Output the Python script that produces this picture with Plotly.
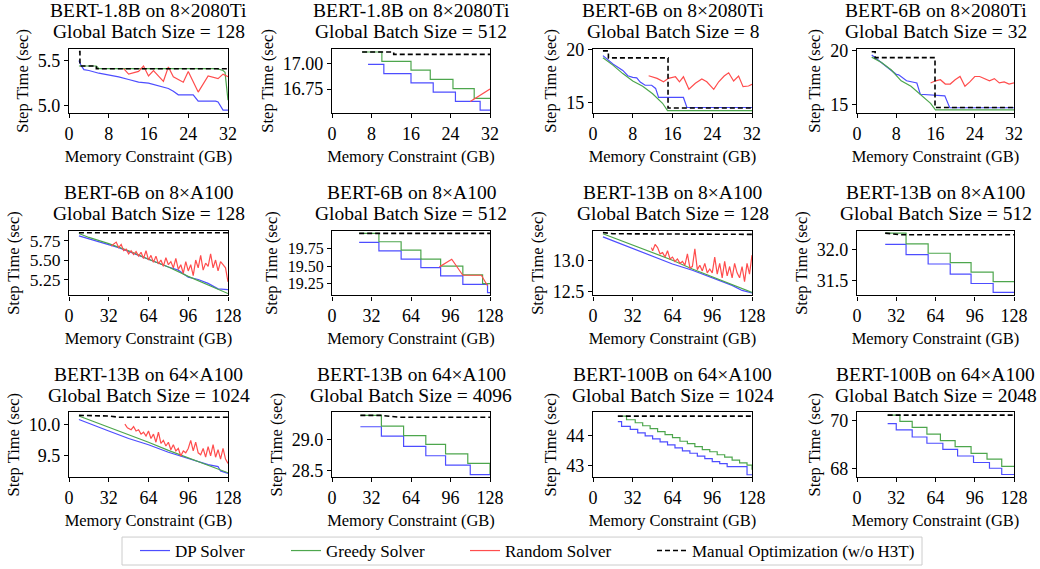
import plotly.graph_objects as go

# ---------------- data ----------------
TITLES_1 = ["BERT-1.8B on 8×2080Ti", "BERT-1.8B on 8×2080Ti", "BERT-6B on 8×2080Ti", "BERT-6B on 8×2080Ti",
            "BERT-6B on 8×A100", "BERT-6B on 8×A100", "BERT-13B on 8×A100", "BERT-13B on 8×A100",
            "BERT-13B on 64×A100", "BERT-13B on 64×A100", "BERT-100B on 64×A100", "BERT-100B on 64×A100"]
TITLES_2 = ["Global Batch Size = 128", "Global Batch Size = 512", "Global Batch Size = 8", "Global Batch Size = 32",
            "Global Batch Size = 128", "Global Batch Size = 512", "Global Batch Size = 128", "Global Batch Size = 512",
            "Global Batch Size = 1024", "Global Batch Size = 4096", "Global Batch Size = 1024", "Global Batch Size = 2048"]

X_TICKS_SMALL = [0, 8, 16, 24, 32]
X_TICKS_LARGE = [0, 32, 64, 96, 128]

Y_TICKVALS = [[5.0, 5.5], [16.75, 17.00], [15, 20], [15, 20],
              [5.25, 5.50, 5.75], [19.25, 19.50, 19.75], [12.5, 13.0], [31.5, 32.0],
              [9.5, 10.0], [28.5, 29.0], [43, 44], [68, 70]]
Y_TICKTEXT = [["5.0", "5.5"], ["16.75", "17.00"], ["15", "20"], ["15", "20"],
              ["5.25", "5.50", "5.75"], ["19.25", "19.50", "19.75"], ["12.5", "13.0"], ["31.5", "32.0"],
              ["9.5", "10.0"], ["28.5", "29.0"], ["43", "44"], ["68", "70"]]
Y_RANGES = [[4.92, 5.63], [16.52, 17.14], [14.0, 20.03], [14.23, 20.16],
            [5.045, 5.878], [19.08, 20.01], [12.44, 13.47], [31.27, 32.30],
            [9.16, 10.20], [28.40, 29.43], [42.6, 44.77], [67.63, 70.33]]

# Panel 1
P1_DP_X = [2, 2.4, 3, 4, 6, 8, 10, 12, 14, 16, 18, 19, 20, 21, 22, 25, 26, 29.5, 30, 31, 32]
P1_DP_Y = [5.50, 5.45, 5.40, 5.39, 5.36, 5.34, 5.32, 5.29, 5.26, 5.25, 5.22, 5.20, 5.19, 5.16, 5.12, 5.12, 5.05, 5.05, 5.04, 4.95, 4.95]
P1_GR_X = [2, 5.5, 6, 29.8, 31, 31.4, 32]
P1_GR_Y = [5.44, 5.44, 5.41, 5.41, 5.39, 5.37, 5.06]
P1_RA_X = [11, 12, 14, 15, 16, 17, 19, 20, 21, 23, 24, 26, 28, 30, 31, 32]
P1_RA_Y = [5.41, 5.35, 5.38, 5.44, 5.33, 5.39, 5.27, 5.43, 5.32, 5.26, 5.38, 5.15, 5.33, 5.30, 5.35, 5.32]
P1_MA_X = [2, 2.2, 5.5, 32]
P1_MA_Y = [5.60, 5.44, 5.41, 5.41]

# Panel 2
P2_DP_X = [7.3, 10.5, 16, 20.5, 25, 30, 32]
P2_DP_Y = [16.99, 16.90, 16.81, 16.72, 16.63, 16.545, 16.545]
P2_GR_X = [6.1, 10.1, 16, 19.9, 24.5, 28.8, 32]
P2_GR_Y = [17.11, 17.02, 16.935, 16.845, 16.755, 16.66, 16.66]
P2_RA_X = [28, 32]
P2_RA_Y = [16.63, 16.75]
P2_MA_X = [6.1, 12.5, 32]
P2_MA_Y = [17.11, 17.087, 17.087]

# Panel 3
P3_DP_X = [2, 4, 6, 7, 8, 8.8, 9.5, 10.5, 11.8, 12.6, 13.2, 18.2, 18.9, 32]
P3_DP_Y = [19.4, 18.6, 18.0, 17.5, 17.35, 17.3, 16.9, 16.6, 16.6, 16.3, 15.45, 15.45, 14.5, 14.5]
P3_GR_X = [2, 4, 6, 8, 10, 12, 14, 15, 32]
P3_GR_Y = [19.2, 18.5, 17.7, 17.0, 16.5, 15.8, 14.9, 14.2, 14.2]
P3_RA_X = [11.2, 12.9, 14.2, 15.2, 16.6, 17.4, 18.2, 19.3, 20.6, 21.9, 22.9, 24.3, 25.3, 26.4, 27.3, 28.3, 29.3, 30.2, 31.3, 32]
P3_RA_Y = [17.5, 17.25, 16.93, 17.25, 17.4, 16.93, 17.4, 16.22, 16.78, 17.19, 16.93, 16.22, 16.93, 17.47, 17.78, 17.0, 17.47, 16.47, 16.53, 16.69]
P3_MA_X = [2, 3.1, 15.1, 32]
P3_MA_Y = [19.84, 19.18, 14.45, 14.45]

# Panel 4
P4_DP_X = [3, 5, 7, 8, 8.5, 10.1, 12.2, 12.9, 17.9, 18.9, 32]
P4_DP_Y = [19.6, 18.9, 18.2, 17.8, 17.75, 17.2, 17.0, 15.95, 15.8, 14.7, 14.7]
P4_GR_X = [3, 5, 7, 9, 11, 13, 15, 16, 32]
P4_GR_Y = [19.4, 18.9, 18.2, 17.2, 16.7, 15.9, 15.1, 14.5, 14.5]
P4_RA_X = [15, 16, 17, 18, 19, 20, 21, 22, 23, 24, 25, 26, 27, 28, 29, 30, 31, 32]
P4_RA_Y = [17.0, 17.2, 17.3, 16.9, 16.9, 17.3, 17.6, 16.7, 17.1, 17.6, 17.6, 17.4, 17.2, 17.4, 17.0, 17.1, 16.9, 17.0]
P4_MA_X = [3, 3.7, 15.9, 32]
P4_MA_Y = [19.9, 19.35, 14.72, 14.72]

# Panel 5
P5_DP_X = [8, 16, 24, 32, 40, 48, 56, 64, 72, 80, 88, 96, 104, 112, 120, 128]
P5_DP_Y = [5.81, 5.77, 5.73, 5.70, 5.66, 5.61, 5.56, 5.50, 5.45, 5.41, 5.37, 5.28, 5.25, 5.20, 5.13, 5.12]
P5_GR_X = [8, 16, 32, 48, 64, 80, 96, 112, 128]
P5_GR_Y = [5.84, 5.79, 5.71, 5.62, 5.51, 5.41, 5.29, 5.18, 5.07]
P5_RA_X = [34, 36, 38, 40, 42, 44, 46, 48, 50, 52, 54, 56, 58, 60, 62, 64, 66, 68, 70, 72, 74, 76, 78, 80,
           82, 84, 86, 88, 90, 92, 94, 96, 98, 100, 102, 104, 106, 108, 110, 112, 114, 116, 118, 120, 122, 124, 126, 128]
P5_RA_Y = [5.68, 5.70, 5.73, 5.66, 5.70, 5.62, 5.64, 5.58, 5.62, 5.57,
           5.61, 5.55, 5.60, 5.52, 5.62, 5.50, 5.56, 5.47, 5.55, 5.45,
           5.50, 5.42, 5.53, 5.44, 5.48, 5.40, 5.52, 5.38, 5.44, 5.33,
           5.48, 5.36, 5.44, 5.30, 5.50, 5.40, 5.56, 5.37, 5.46, 5.42,
           5.58, 5.40, 5.50, 5.36, 5.48, 5.44, 5.40, 5.22]
P5_MA_X = [8, 128]
P5_MA_Y = [5.85, 5.85]

# Panel 6
P6_DP_X = [22, 38, 56, 72, 88, 106, 126, 128]
P6_DP_Y = [19.84, 19.72, 19.60, 19.48, 19.36, 19.24, 19.12, 19.12]
P6_GR_X = [22, 38, 56, 72, 88, 106, 122, 128]
P6_GR_Y = [19.97, 19.85, 19.73, 19.60, 19.50, 19.375, 19.25, 19.25]
P6_RA_X = [87, 97, 106, 121, 126]
P6_RA_Y = [19.49, 19.60, 19.37, 19.37, 19.22]
P6_MA_X = [22, 128]
P6_MA_Y = [19.97, 19.97]

# Panel 7
P7_DP_X = [8, 16, 32, 48, 64, 80, 96, 112, 120, 128]
P7_DP_Y = [13.37, 13.31, 13.18, 13.06, 12.94, 12.84, 12.72, 12.60, 12.52, 12.48]
P7_GR_X = [8, 16, 32, 48, 64, 80, 96, 112, 128]
P7_GR_Y = [13.42, 13.36, 13.24, 13.12, 13.00, 12.86, 12.74, 12.61, 12.49]
P7_RA_X = [47, 48, 50, 52, 54, 56, 58, 60, 62, 64, 66, 68, 70, 72, 74, 76, 78, 80, 82, 84, 86,
           88, 90, 92, 94, 96, 98, 100, 102, 104, 106, 108, 110, 112, 114, 116, 118, 120, 122, 124, 126, 128]
P7_RA_Y = [13.20, 13.15, 13.25, 13.20, 13.10, 13.12, 13.05, 13.15, 13.02, 13.05,
           12.98, 13.02, 12.95, 12.98, 12.92, 13.10, 12.88, 12.90, 13.18, 12.85,
           12.92, 12.83, 12.95, 12.80, 12.86, 12.80, 13.05, 12.78, 12.95, 12.72,
           12.98, 12.75, 12.90, 12.72, 12.95, 12.80, 12.72, 12.90, 12.66, 12.95,
           12.78, 13.08]
P7_MA_X = [8, 16, 128]
P7_MA_Y = [13.44, 13.42, 13.41]

# Panel 8
P8_DP_X = [23, 40, 58, 76, 93, 111, 128]
P8_DP_Y = [32.08, 31.92, 31.77, 31.61, 31.46, 31.32, 31.32]
P8_GR_X = [23, 40, 58, 76, 93, 111, 128]
P8_GR_Y = [32.26, 32.09, 31.94, 31.79, 31.64, 31.49, 31.49]
P8_MA_X = [23, 35, 128]
P8_MA_Y = [32.26, 32.235, 32.235]

# Panel 9
P9_DP_X = [8, 16, 32, 48, 64, 80, 96, 112, 120, 122, 128]
P9_DP_Y = [10.085, 10.02, 9.90, 9.78, 9.68, 9.56, 9.46, 9.36, 9.33, 9.26, 9.22]
P9_GR_X = [8, 16, 32, 48, 64, 80, 96, 112, 128]
P9_GR_Y = [10.14, 10.08, 9.96, 9.85, 9.72, 9.59, 9.47, 9.35, 9.23]
P9_RA_X = [45, 47, 50, 52, 54, 56, 58, 60, 62, 64, 66, 68, 70, 72, 74, 76, 78, 80, 82, 84, 86,
           88, 90, 92, 94, 96, 98, 100, 102, 104, 106, 108, 110, 112, 114, 116, 118, 120, 122, 124, 126, 128]
P9_RA_Y = [10.01, 9.95, 9.92, 9.97, 9.90, 9.92, 9.85, 9.88, 9.82, 9.90,
           9.78, 9.85, 9.72, 9.88, 9.70, 9.75, 9.66, 9.72, 9.60, 9.68,
           9.58, 9.62, 9.50, 9.58, 9.55, 9.62, 9.75, 9.58, 9.72, 9.55,
           9.52, 9.62, 9.48, 9.65, 9.50, 9.68, 9.48, 9.60, 9.45, 9.62,
           9.45, 9.38]
P9_MA_X = [8, 32, 40, 128]
P9_MA_Y = [10.15, 10.14, 10.12, 10.12]

# Panel 10
P10_DP_X = [23, 40, 58, 76, 92, 112, 128]
P10_DP_Y = [29.20, 29.05, 28.89, 28.74, 28.59, 28.44, 28.44]
P10_GR_X = [23, 40, 58, 76, 92, 110, 128]
P10_GR_Y = [29.38, 29.21, 29.06, 28.92, 28.77, 28.62, 28.45]
P10_MA_X = [23, 40, 55, 128]
P10_MA_Y = [29.38, 29.38, 29.35, 29.35]

# Panel 11
P11_DP_X = [20, 23, 30, 36, 42, 48, 54, 60, 66, 72, 78, 84, 90, 96, 102, 108, 124, 128]
P11_DP_Y = [44.46, 44.30, 44.20, 44.08, 43.98, 43.88, 43.78, 43.68, 43.58, 43.48, 43.40, 43.30, 43.22, 43.12, 43.05, 42.95, 42.68, 42.68]
P11_GR_X = [24, 27, 34, 40, 46, 52, 58, 64, 70, 76, 82, 88, 94, 100, 106, 112, 118, 124, 128]
P11_GR_Y = [44.64, 44.52, 44.42, 44.32, 44.22, 44.12, 44.02, 43.92, 43.80, 43.72, 43.62, 43.52, 43.45, 43.35, 43.27, 43.17, 43.08, 43.00, 42.85]
P11_MA_X = [20, 128]
P11_MA_Y = [44.64, 44.64]

# Panel 12
P12_DP_X = [25, 32, 45, 57, 70, 82, 95, 108, 118, 128]
P12_DP_Y = [69.86, 69.60, 69.30, 69.04, 68.79, 68.51, 68.24, 68.00, 67.74, 67.74]
P12_GR_X = [25, 35, 45, 57, 68, 80, 93, 106, 118, 128]
P12_GR_Y = [70.21, 69.95, 69.70, 69.42, 69.15, 68.90, 68.62, 68.38, 68.08, 68.08]
P12_MA_X = [25, 128]
P12_MA_Y = [70.21, 70.21]

# (dp_x, dp_y, dp_shape, gr_x, gr_y, gr_shape, ra_x, ra_y, ma_x, ma_y, ma_shape)
PANELS = [
    (P1_DP_X, P1_DP_Y, "linear", P1_GR_X, P1_GR_Y, "linear", P1_RA_X, P1_RA_Y, P1_MA_X, P1_MA_Y, "hv"),
    (P2_DP_X, P2_DP_Y, "hv", P2_GR_X, P2_GR_Y, "hv", P2_RA_X, P2_RA_Y, P2_MA_X, P2_MA_Y, "hv"),
    (P3_DP_X, P3_DP_Y, "linear", P3_GR_X, P3_GR_Y, "linear", P3_RA_X, P3_RA_Y, P3_MA_X, P3_MA_Y, "hv"),
    (P4_DP_X, P4_DP_Y, "linear", P4_GR_X, P4_GR_Y, "linear", P4_RA_X, P4_RA_Y, P4_MA_X, P4_MA_Y, "hv"),
    (P5_DP_X, P5_DP_Y, "linear", P5_GR_X, P5_GR_Y, "linear", P5_RA_X, P5_RA_Y, P5_MA_X, P5_MA_Y, "linear"),
    (P6_DP_X, P6_DP_Y, "hv", P6_GR_X, P6_GR_Y, "hv", P6_RA_X, P6_RA_Y, P6_MA_X, P6_MA_Y, "linear"),
    (P7_DP_X, P7_DP_Y, "linear", P7_GR_X, P7_GR_Y, "linear", P7_RA_X, P7_RA_Y, P7_MA_X, P7_MA_Y, "linear"),
    (P8_DP_X, P8_DP_Y, "hv", P8_GR_X, P8_GR_Y, "hv", None, None, P8_MA_X, P8_MA_Y, "linear"),
    (P9_DP_X, P9_DP_Y, "linear", P9_GR_X, P9_GR_Y, "linear", P9_RA_X, P9_RA_Y, P9_MA_X, P9_MA_Y, "linear"),
    (P10_DP_X, P10_DP_Y, "hv", P10_GR_X, P10_GR_Y, "hv", None, None, P10_MA_X, P10_MA_Y, "linear"),
    (P11_DP_X, P11_DP_Y, "hv", P11_GR_X, P11_GR_Y, "hv", None, None, P11_MA_X, P11_MA_Y, "linear"),
    (P12_DP_X, P12_DP_Y, "hv", P12_GR_X, P12_GR_Y, "hv", None, None, P12_MA_X, P12_MA_Y, "linear"),
]

SERIES_NAMES = ["DP Solver", "Greedy Solver", "Random Solver", "Manual Optimization (w/o H3T)"]

# ---------------- style / layout ----------------
W, H = 1040, 569
FONT = "Liberation Serif"
C_DP = "#4d4dff"
C_GR = "#4da64d"
C_RA = "#ff4d4d"
C_MA = "black"
COL_PX = [(69, 228), (332, 490), (593, 752), (857, 1014)]
ROW_PX = [(49, 113), (231, 296), (413, 478)]
Y_TICK_FONT = [18, 18, 18, 18, 17.5, 16, 18, 18, 18, 18, 18, 18]
LEGEND_IDS = ["legend", "legend2", "legend3", "legend4"]
LEGEND_TEXT_X = [176, 327, 506, 693]   # where each legend label starts (px)
LEGEND_BOX = (122, 538, 922, 566)

fig = go.Figure()
annotations = []

for i, p in enumerate(PANELS):
    dpx, dpy, dps, grx, gry, grs, rax, ray, max_, may, mas = p
    r, c = divmod(i, 4)
    ax = "" if i == 0 else str(i + 1)
    xref, yref = "x" + ax, "y" + ax
    first = (i == 0)
    fig.add_trace(go.Scatter(x=dpx, y=dpy, mode="lines", line=dict(color=C_DP, width=1.2, shape=dps),
                             name=SERIES_NAMES[0], showlegend=first, legend=LEGEND_IDS[0], xaxis=xref, yaxis=yref))
    fig.add_trace(go.Scatter(x=grx, y=gry, mode="lines", line=dict(color=C_GR, width=1.2, shape=grs),
                             name=SERIES_NAMES[1], showlegend=first, legend=LEGEND_IDS[1], xaxis=xref, yaxis=yref))
    if rax is not None:
        fig.add_trace(go.Scatter(x=rax, y=ray, mode="lines", line=dict(color=C_RA, width=1.2),
                                 name=SERIES_NAMES[2], showlegend=first, legend=LEGEND_IDS[2], xaxis=xref, yaxis=yref))
    fig.add_trace(go.Scatter(x=max_, y=may, mode="lines", line=dict(color=C_MA, width=1.6, dash="5px,3px", shape=mas),
                             name=SERIES_NAMES[3], showlegend=first, legend=LEGEND_IDS[3], xaxis=xref, yaxis=yref))

    x0, x1 = COL_PX[c]
    y0, y1 = ROW_PX[r]
    xr = [0, 32] if r == 0 else [0, 128]
    xt = X_TICKS_SMALL if r == 0 else X_TICKS_LARGE
    axis_common = dict(showline=True, linecolor="black", linewidth=1.2, mirror=True, ticks="outside",
                       ticklen=4, tickwidth=1.2, tickcolor="black", showgrid=False, zeroline=False,
                       automargin=False)
    fig.layout["xaxis" + ax] = dict(domain=[x0 / W, x1 / W], anchor=yref, range=xr, tickvals=xt,
                                    ticktext=[str(v) for v in xt],
                                    tickfont=dict(family=FONT, size=18, color="black"),
                                    title=dict(text="Memory Constraint (GB)", font=dict(family=FONT, size=16.5, color="black"),
                                               standoff=7),
                                    **axis_common)
    fig.layout["yaxis" + ax] = dict(domain=[1 - y1 / H, 1 - y0 / H], anchor=xref, range=Y_RANGES[i],
                                    tickvals=Y_TICKVALS[i], ticktext=Y_TICKTEXT[i],
                                    tickfont=dict(family=FONT, size=Y_TICK_FONT[i], color="black"),
                                    title=dict(text="Step Time (sec)", font=dict(family=FONT, size=16.5, color="black"),
                                               standoff=5),
                                    **axis_common)
    cx = (x0 + x1) / 2 / W
    annotations.append(dict(text=TITLES_1[i], x=cx, y=1 - (y0 - 38) / H, xref="paper", yref="paper",
                            xanchor="center", yanchor="middle", showarrow=False,
                            font=dict(family=FONT, size=19.5, color="black")))
    annotations.append(dict(text=TITLES_2[i], x=cx, y=1 - (y0 - 17) / H, xref="paper", yref="paper",
                            xanchor="center", yanchor="middle", showarrow=False,
                            font=dict(family=FONT, size=19.5, color="black")))

legend_layout = {}
for k, lid in enumerate(LEGEND_IDS):
    legend_layout[lid] = dict(orientation="h", x=(LEGEND_TEXT_X[k] - 41) / W,
                              y=1 - ((LEGEND_BOX[1] + LEGEND_BOX[3]) / 2) / H,
                              xanchor="left", yanchor="middle",
                              font=dict(family=FONT, size=17, color="black"),
                              bgcolor="rgba(0,0,0,0)", borderwidth=0)

fig.update_layout(
    width=W, height=H, autosize=False,
    margin=dict(l=0, r=0, t=0, b=0, pad=0),
    paper_bgcolor="white", plot_bgcolor="white",
    annotations=annotations,
    shapes=[dict(type="rect", xref="paper", yref="paper",
                 x0=LEGEND_BOX[0] / W, x1=LEGEND_BOX[2] / W,
                 y0=1 - LEGEND_BOX[3] / H, y1=1 - LEGEND_BOX[1] / H,
                 line=dict(color="#cccccc", width=1), layer="below")],
    **legend_layout,
)

fig.write_html("out.html", config={"displayModeBar": False},
               post_script="document.body.style.margin='0px';")
